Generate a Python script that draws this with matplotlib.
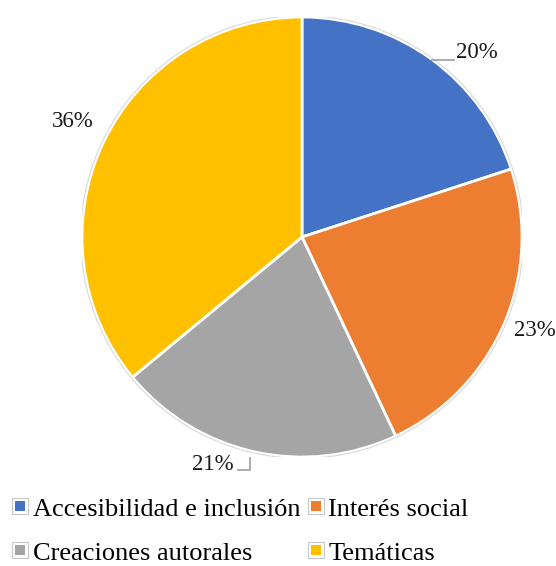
import matplotlib
matplotlib.use("Agg")
import matplotlib.pyplot as plt
from matplotlib.patches import Circle
from matplotlib.lines import Line2D
from matplotlib.legend_handler import HandlerTuple

categories = ["Accesibilidad e inclusión", "Interés social", "Creaciones autorales", "Temáticas"]
values = [20, 23, 21, 36]
pct_labels = ["20%", "23%", "21%", "36%"]
colors = ["#4472C4", "#ED7D31", "#A5A5A5", "#FFC000"]

plt.rcParams['font.family'] = ['Liberation Serif', 'DejaVu Serif']

fig = plt.figure(figsize=(5.56, 5.66), dpi=100)
ax = fig.add_axes([82/556, 109/566, 440/556, 440/566])
wedges, _ = ax.pie(values, colors=colors, startangle=90, counterclock=False,
                   radius=1.0, wedgeprops=dict(edgecolor="white", linewidth=2))
ax.add_patch(Circle((0, 0), 1.006, fill=False, edgecolor="#d9d9d9", linewidth=0.8))
ax.set_xlim(-1, 1)
ax.set_ylim(-1, 1)
ax.set_aspect("equal")
ax.axis("off")

# label positions (styling)
label_pos = [(0.70, 0.84, "left"), (1.06, -0.423, "center"), (-0.31, -1.032, "right"), (-1.04, 0.523, "center")]
for (x, y, ha), t in zip(label_pos, pct_labels):
    ax.text(x, y, t, ha=ha, va="center", fontsize=16.5, color="#1a1a1a", clip_on=False)

# leader lines
ax.plot([0.59, 0.69], [0.805, 0.805], color="#a6a6a6", lw=1.3, clip_on=False)
ax.plot([-0.236, -0.236, -0.291], [-1.005, -1.059, -1.059], color="#a6a6a6", lw=1.3, clip_on=False)

handles = []
for c in colors:
    outer = Line2D([], [], marker="s", markersize=11, markerfacecolor="white",
                   markeredgecolor="#c8c8c8", markeredgewidth=0.8, linestyle="none")
    inner = Line2D([], [], marker="s", markersize=7.5, markerfacecolor=c,
                   markeredgecolor=c, markeredgewidth=0, linestyle="none")
    handles.append((outer, inner))
order = [0, 2, 1, 3]
fig.legend([handles[i] for i in order], [categories[i] for i in order],
           handler_map={tuple: HandlerTuple(ndivide=1)},
           ncol=2, loc="lower left", bbox_to_anchor=(0.0, -0.021), frameon=False,
           fontsize=19, handlelength=0.55, handletextpad=0.2,
           columnspacing=0.3, labelspacing=0.78, borderaxespad=0.2, borderpad=0.3)

fig.savefig("out.png", dpi=100)
